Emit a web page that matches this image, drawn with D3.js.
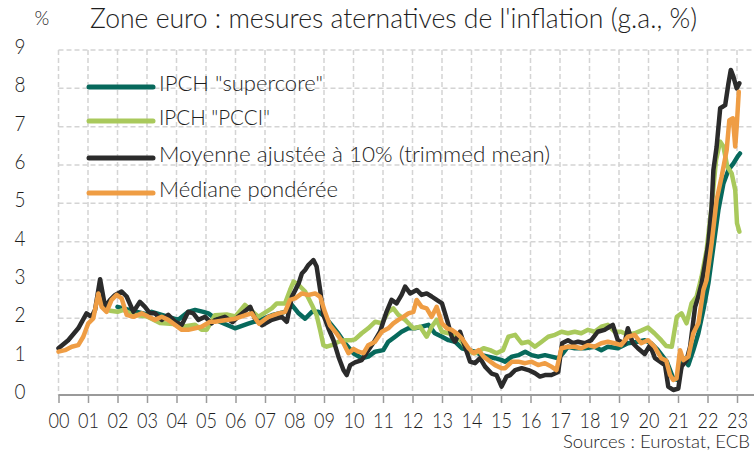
<!DOCTYPE html>
<html>
<head>
<meta charset="utf-8">
<script src="https://cdn.jsdelivr.net/npm/d3@7"></script>
<style>
  body { margin: 0; background: #fff; }
  svg text { font-family: "Lato", "DejaVu Sans Condensed", sans-serif; font-weight: 300; fill: #1e1e1e; }
</style>
</head>
<body>
<div id="chart"></div>
<script>
/*Values (dates as decimal years)*/
const yearTicks = d3.range(2000, 2024);
const yTicks = [0, 1, 2, 3, 4, 5, 6, 7, 8, 9];
const seriesNames = ['IPCH "supercore"', 'IPCH "PCCI"', "Moyenne ajustée à 10% (trimmed mean)", "Médiane pondérée"];

const superDates = [2002.00,2002.50,2003.00,2003.16,2003.50,2004.06,2004.40,2004.63,2004.91,2005.08,2005.46,2005.98,2006.43,2006.80,2007.23,2007.68,2007.91,2008.14,2008.36,2008.59,2008.81,2009.03,2009.26,2009.49,2009.71,2010.00,2010.28,2010.50,2010.73,2011.01,2011.18,2011.41,2011.63,2011.86,2012.08,2012.31,2012.54,2012.76,2013.00,2013.22,2013.44,2013.67,2013.90,2014.12,2014.35,2014.57,2014.80,2015.02,2015.14,2015.37,2015.59,2015.82,2016.04,2016.26,2016.49,2016.71,2016.94,2017.10,2017.27,2017.50,2017.84,2018.17,2018.40,2018.62,2018.96,2019.30,2019.64,2019.87,2020.09,2020.32,2020.62,2020.84,2021.01,2021.18,2021.35,2021.52,2021.69,2021.86,2022.03,2022.20,2022.37,2022.54,2022.71,2022.88,2023.02,2023.10];
const superValues = [2.30,2.20,2.10,2.17,2.09,1.96,2.17,2.22,2.17,2.13,1.91,1.74,1.86,1.95,2.08,2.17,2.35,2.13,1.99,2.17,2.17,2.04,1.82,1.60,1.35,1.09,0.96,1.00,1.13,1.17,1.39,1.52,1.65,1.74,1.74,1.78,1.83,1.61,1.52,1.43,1.39,1.22,1.17,1.13,1.04,1.00,0.96,0.91,0.87,1.00,1.04,1.13,1.04,1.00,1.04,1.00,0.96,1.09,1.26,1.22,1.22,1.26,1.17,1.26,1.22,1.35,1.39,1.43,1.35,1.17,0.87,0.43,0.39,0.96,0.78,1.17,1.61,2.22,2.91,3.87,4.83,5.52,5.87,6.04,6.22,6.30];

const pcciDates = [2001.75,2002.00,2002.20,2002.50,2003.00,2003.44,2003.90,2004.18,2004.63,2004.85,2005.02,2005.30,2005.70,2006.00,2006.32,2006.77,2007.23,2007.40,2007.68,2007.85,2007.97,2008.14,2008.36,2008.59,2008.75,2008.87,2008.98,2009.09,2009.26,2009.49,2009.71,2009.94,2010.05,2010.28,2010.50,2010.73,2010.96,2011.18,2011.35,2011.52,2011.75,2012.03,2012.26,2012.48,2012.65,2012.82,2013.00,2013.22,2013.44,2013.67,2013.90,2014.12,2014.41,2014.63,2014.85,2015.07,2015.25,2015.48,2015.70,2015.93,2016.15,2016.38,2016.60,2016.83,2017.05,2017.27,2017.50,2017.72,2017.95,2018.17,2018.40,2018.62,2018.85,2019.07,2019.30,2019.53,2019.75,2019.98,2020.20,2020.43,2020.60,2020.79,2020.96,2021.12,2021.29,2021.46,2021.63,2021.80,2021.97,2022.14,2022.29,2022.43,2022.54,2022.67,2022.82,2022.94,2023.00,2023.08];
const pcciValues = [2.20,2.17,2.22,2.10,2.05,1.88,1.85,1.78,1.83,1.70,1.70,2.08,2.10,2.05,2.35,2.04,2.26,2.39,2.39,2.74,2.96,2.87,2.70,2.35,2.08,1.69,1.30,1.26,1.30,1.39,1.43,1.43,1.45,1.61,1.74,1.91,1.87,2.17,2.26,2.09,1.96,1.74,1.78,1.52,1.78,1.96,1.65,1.61,1.57,1.39,1.13,1.09,1.22,1.17,1.09,1.17,1.52,1.57,1.35,1.39,1.26,1.39,1.52,1.57,1.65,1.61,1.65,1.61,1.70,1.65,1.78,1.83,1.65,1.65,1.57,1.61,1.68,1.76,1.61,1.43,1.28,1.26,2.04,2.13,1.87,2.39,2.57,3.09,3.78,4.91,6.13,6.61,6.48,5.96,5.78,5.35,4.48,4.26];

const trimDates = [2000.00,2000.33,2000.67,2000.95,2001.12,2001.24,2001.41,2001.58,2001.75,2001.92,2002.14,2002.31,2002.54,2002.76,2002.93,2003.10,2003.27,2003.50,2003.72,2003.95,2004.18,2004.40,2004.57,2004.74,2004.97,2005.19,2005.30,2005.64,2005.90,2006.10,2006.50,2006.66,2006.90,2007.23,2007.57,2007.74,2007.91,2008.14,2008.25,2008.36,2008.47,2008.64,2008.75,2008.87,2008.98,2009.15,2009.32,2009.49,2009.66,2009.77,2009.89,2010.05,2010.28,2010.50,2010.73,2010.90,2011.12,2011.29,2011.46,2011.63,2011.75,2011.92,2012.14,2012.31,2012.48,2012.65,2012.82,2013.00,2013.17,2013.33,2013.44,2013.61,2013.78,2013.95,2014.12,2014.29,2014.46,2014.68,2014.85,2015.02,2015.19,2015.31,2015.48,2015.70,2015.93,2016.15,2016.32,2016.49,2016.71,2016.94,2017.07,2017.27,2017.44,2017.61,2017.84,2018.06,2018.28,2018.51,2018.68,2018.79,2018.96,2019.19,2019.30,2019.47,2019.64,2019.87,2020.05,2020.22,2020.39,2020.56,2020.67,2020.84,2021.01,2021.12,2021.29,2021.41,2021.58,2021.69,2021.80,2021.92,2022.03,2022.14,2022.20,2022.31,2022.43,2022.60,2022.71,2022.79,2022.88,2022.99,2023.08];
const trimValues = [1.22,1.43,1.74,2.13,2.04,2.22,3.02,2.30,2.48,2.61,2.70,2.57,2.17,2.43,2.30,2.13,2.13,1.96,2.09,1.91,1.83,2.17,2.13,1.96,2.04,1.87,1.95,2.04,1.90,2.05,2.30,1.99,1.82,1.96,2.04,1.91,2.56,2.91,3.17,3.26,3.39,3.52,3.35,2.74,2.09,1.74,1.43,1.00,0.65,0.52,0.78,0.85,0.91,1.17,1.43,1.65,2.17,2.48,2.39,2.61,2.83,2.65,2.74,2.61,2.65,2.57,2.48,2.39,1.96,1.52,1.39,1.65,1.26,0.87,0.83,0.96,0.74,0.56,0.52,0.22,0.48,0.52,0.65,0.70,0.65,0.57,0.48,0.52,0.52,0.60,1.35,1.43,1.35,1.39,1.35,1.43,1.65,1.70,1.78,1.83,1.43,1.35,1.74,1.35,1.22,1.07,1.30,0.96,0.87,0.78,0.22,0.13,0.17,0.74,0.91,1.26,2.30,2.57,2.91,3.43,3.96,4.91,5.87,6.48,7.48,7.56,8.13,8.48,8.30,8.00,8.13];

const medDates = [2000.00,2000.22,2000.45,2000.67,2000.84,2001.01,2001.18,2001.35,2001.46,2001.63,2001.80,2001.97,2002.14,2002.31,2002.54,2002.82,2003.05,2003.27,2003.50,2003.72,2003.95,2004.18,2004.40,2004.63,2004.85,2005.14,2005.30,2005.64,2005.98,2006.32,2006.55,2006.80,2007.12,2007.46,2007.68,2007.85,2008.02,2008.25,2008.47,2008.70,2008.87,2009.03,2009.20,2009.43,2009.66,2009.83,2010.00,2010.17,2010.34,2010.50,2010.73,2010.96,2011.18,2011.35,2011.52,2011.69,2011.86,2012.03,2012.14,2012.31,2012.48,2012.65,2012.82,2013.00,2013.17,2013.33,2013.50,2013.67,2013.90,2014.07,2014.24,2014.41,2014.57,2014.80,2015.02,2015.14,2015.37,2015.59,2015.82,2016.04,2016.26,2016.49,2016.71,2016.88,2017.05,2017.27,2017.50,2017.72,2017.95,2018.17,2018.40,2018.62,2018.85,2019.07,2019.30,2019.53,2019.75,2019.98,2020.20,2020.43,2020.60,2020.73,2020.84,2020.95,2021.07,2021.18,2021.35,2021.52,2021.69,2021.86,2021.97,2022.14,2022.31,2022.48,2022.65,2022.74,2022.86,2022.94,2022.99,2023.06];
const medValues = [1.13,1.17,1.26,1.30,1.52,1.87,2.00,2.65,2.30,2.17,2.48,2.61,2.52,2.09,2.04,2.13,2.04,1.96,2.04,1.96,1.83,1.70,1.70,1.74,1.78,1.91,1.91,1.95,1.99,2.08,2.13,1.86,2.04,2.13,2.17,2.48,2.52,2.65,2.61,2.65,2.56,2.17,1.82,1.60,1.35,1.09,1.20,1.13,1.09,1.30,1.39,1.65,1.74,1.87,1.96,2.04,2.13,2.17,2.48,2.30,2.26,2.04,2.30,1.87,1.74,1.70,1.61,1.48,1.22,1.09,1.17,1.00,0.91,0.78,0.70,0.70,0.87,0.87,0.83,0.87,0.78,0.83,0.74,0.65,1.22,1.26,1.26,1.22,1.30,1.26,1.35,1.39,1.35,1.30,1.52,1.57,1.35,1.43,1.26,0.96,0.90,0.52,0.39,0.43,1.17,0.91,1.00,1.61,1.87,2.74,3.00,3.96,5.09,5.70,6.39,7.17,7.22,6.48,7.00,7.91];

document.addEventListener("DOMContentLoaded", function(){

       const chartWidth = 754;
       const chartHeight = 458;
       const plotLeft = 58.5;
       const plotRight = 754;
       const gridColor = "#d4d4d4";
       /*Series colours, in legend order*/
       const colors = ["#07695c", "#a9c95c", "#2b2b2b", "#ef9d44"];

       const series = [
              superDates.map((d, i) => [d, superValues[i]]),
              pcciDates.map((d, i) => [d, pcciValues[i]]),
              trimDates.map((d, i) => [d, trimValues[i]]),
              medDates.map((d, i) => [d, medValues[i]])
       ];

       const xScale = d3.scaleLinear()
              .domain([2000, 2023])
              .range([plotLeft, 737]);

       const yScale = d3.scaleLinear()
              .domain([0, 9])
              .range([395, 50]);

       const svg = d3.select("#chart")
              .append("svg")
              .attr("width", chartWidth)
              .attr("height", chartHeight);

       /*Dashed grid*/
       svg.append("g")
              .selectAll("line")
              .data(yTicks.filter(v => v > 0))
              .enter()
              .append("line")
              .attr("x1", plotLeft)
              .attr("x2", plotRight)
              .attr("y1", d => yScale(d))
              .attr("y2", d => yScale(d))
              .style("stroke", gridColor)
              .style("stroke-width", 1.5)
              .style("stroke-dasharray", "5,3");

       svg.append("g")
              .selectAll("line")
              .data(yearTicks)
              .enter()
              .append("line")
              .attr("x1", d => xScale(d))
              .attr("x2", d => xScale(d))
              .attr("y1", yScale(9))
              .attr("y2", yScale(0))
              .style("stroke", gridColor)
              .style("stroke-width", 1.5)
              .style("stroke-dasharray", "5,3");

       /*X axis with year ticks*/
       const xAxis = d3.axisBottom(xScale)
              .tickValues(yearTicks)
              .tickSize(8)
              .tickPadding(6)
              .tickFormat(d => String(d).slice(2));

       const xAxisGroup = svg.append("g")
              .attr("transform", "translate(0," + yScale(0) + ")")
              .call(xAxis);
       xAxisGroup.select(".domain").remove();
       xAxisGroup.selectAll(".tick line").style("stroke", "#9a9a9a").style("stroke-width", 1.5);
       xAxisGroup.selectAll(".tick text")
              .style("font-size", "22px")
              .style("font-family", null)
              .attr("dy", "0.85em")
              .attr("textLength", 21)
              .attr("lengthAdjust", "spacingAndGlyphs");
       xAxisGroup.append("line")
              .attr("x1", plotLeft)
              .attr("x2", plotRight)
              .style("stroke", "#9a9a9a")
              .style("stroke-width", 2);

       /*Y axis labels*/
       svg.append("g")
              .selectAll("text")
              .data(yTicks)
              .enter()
              .append("text")
              .attr("x", 20)
              .attr("y", d => yScale(d) + 4)
              .attr("text-anchor", "middle")
              .attr("textLength", 11)
              .attr("lengthAdjust", "spacingAndGlyphs")
              .style("font-size", "22px")
              .text(d => d);

       /*Lines*/
       const line = d3.line()
              .x(d => xScale(d[0]))
              .y(d => yScale(d[1]));

       svg.append("g")
              .selectAll("path")
              .data(series)
              .enter()
              .append("path")
              .attr("d", line)
              .style("fill", "none")
              .style("stroke", (d, i) => colors[i])
              .style("stroke-width", 4.5)
              .style("stroke-linejoin", "round")
              .style("stroke-linecap", "round");

       /*Title and units*/
       svg.append("text")
              .attr("x", 42)
              .attr("y", 25)
              .attr("text-anchor", "middle")
              .style("font-size", "19px")
              .text("%");

       svg.append("text")
              .attr("x", 90)
              .attr("y", 28)
              .attr("textLength", 607)
              .attr("lengthAdjust", "spacingAndGlyphs")
              .style("font-size", "28px")
              .text("Zone euro : mesures aternatives de l'inflation (g.a., %)");

       svg.append("text")
              .attr("x", 750)
              .attr("y", 448)
              .attr("text-anchor", "end")
              .attr("textLength", 187)
              .attr("lengthAdjust", "spacingAndGlyphs")
              .style("font-size", "18px")
              .text("Sources : Eurostat, ECB");

       /*Legend*/
       const legendBaselines = [91, 125, 162, 197];
       const legendWidths = [164, 111, 391, 179];

       const legendGroup = svg.append("g").attr("id", "legend");

       legendGroup.selectAll("line")
              .data(seriesNames)
              .enter()
              .append("line")
              .attr("x1", 89)
              .attr("x2", 153)
              .attr("y1", (d, i) => legendBaselines[i] - 4)
              .attr("y2", (d, i) => legendBaselines[i] - 4)
              .style("stroke", (d, i) => colors[i])
              .style("stroke-width", 5)
              .style("stroke-linecap", "round");

       legendGroup.selectAll("text")
              .data(seriesNames)
              .enter()
              .append("text")
              .attr("x", 159)
              .attr("y", (d, i) => legendBaselines[i])
              .attr("textLength", (d, i) => legendWidths[i])
              .attr("lengthAdjust", "spacingAndGlyphs")
              .style("font-size", "22px")
              .text(d => d);
});
</script>
</body>
</html>
